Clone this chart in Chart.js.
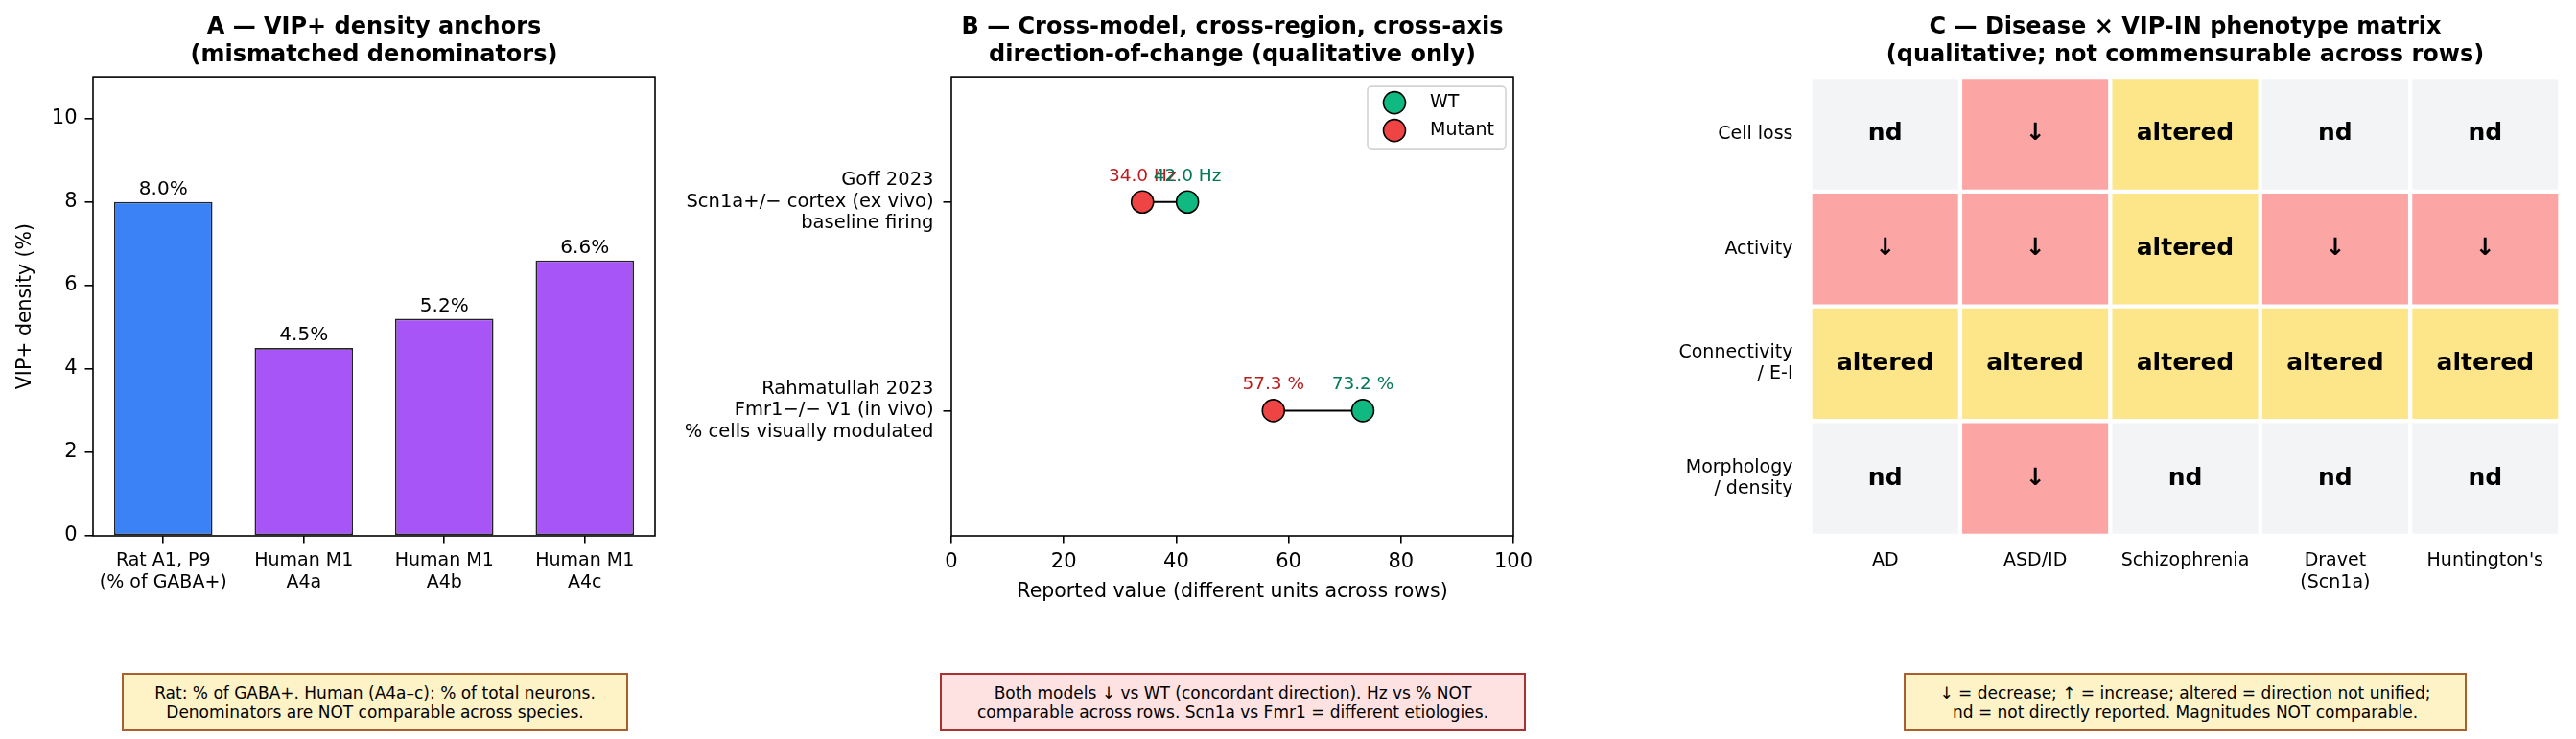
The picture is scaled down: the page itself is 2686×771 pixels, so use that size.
<!DOCTYPE html>
<html lang="en">
<head>
<meta charset="UTF-8">
<title>VIP interneuron panels</title>
<script src="https://cdn.jsdelivr.net/npm/chart.js@4.4.1/dist/chart.umd.min.js"></script>
<style>
    html, body { margin: 0; padding: 0; background: #fff; overflow: hidden; }
    body { width: 2686px; height: 771px; position: relative; font-family: 'DejaVu Sans', sans-serif; }
    canvas { position: absolute; top: 0; }
    .note {
        position: absolute; top: 702px; height: 61px; box-sizing: border-box;
        display: flex; align-items: center; justify-content: center; text-align: center;
        font-size: 17px; line-height: 20px; color: #000;
    }
    .cream { background: #fef3c7; border: 2px solid #a8602e; }
    .pink { background: #fee2e2; border: 2px solid #a83232; }
</style>
</head>
<body>
<canvas id="chartA" width="700" height="700" style="left:0px"></canvas>
<canvas id="chartB" width="1000" height="700" style="left:700px"></canvas>
<canvas id="chartC" width="966" height="700" style="left:1720px"></canvas>

<div class="note cream" style="left:127px; width:528px">Rat: % of GABA+. Human (A4a–c): % of total neurons.<br>Denominators are NOT comparable across species.</div>
<div class="note pink" style="left:980px; width:611px">Both models ↓ vs WT (concordant direction). Hz vs % NOT<br>comparable across rows. Scn1a vs Fmr1 = different etiologies.</div>
<div class="note cream" style="left:1985px; width:587px">↓ = decrease; ↑ = increase; altered = direction not unified;<br>nd = not directly reported. Magnitudes NOT comparable.</div>

<script>
    // ---- panel A data
    const densityLabels = [['Rat A1, P9', '(% of GABA+)'], ['Human M1', 'A4a'], ['Human M1', 'A4b'], ['Human M1', 'A4c']];
    const densityValues = [8.0, 4.5, 5.2, 6.6];
    const densityColors = ['#3b82f6', '#a855f7', '#a855f7', '#a855f7'];

    // ---- panel B data
    const studyLabels = [
        ['Rahmatullah 2023', 'Fmr1−/− V1 (in vivo)', '% cells visually modulated'],
        ['Goff 2023', 'Scn1a+/− cortex (ex vivo)', 'baseline firing']
    ];
    const studyRows = [0, 1];
    const wtValues = [73.2, 42.0];
    const mutantValues = [57.3, 34.0];
    const studyUnits = ['%', 'Hz'];
    const xTicksB = [0, 20, 40, 60, 80, 100];

    // ---- panel C data
    const diseases = ['AD', 'ASD/ID', 'Schizophrenia', ['Dravet', '(Scn1a)'], "Huntington's"];
    const phenotypes = ['Cell loss', 'Activity', ['Connectivity', '/ E-I'], ['Morphology', '/ density']];
    const calls = [
        ['nd', '↓', 'altered', 'nd', 'nd'],
        ['↓', '↓', 'altered', '↓', '↓'],
        ['altered', 'altered', 'altered', 'altered', 'altered'],
        ['nd', '↓', 'nd', 'nd', 'nd']
    ];
    const callColors = { '↓': '#fca5a5', 'altered': '#fde68a', 'nd': '#f3f4f6' };

    Chart.defaults.font.family = "'DejaVu Sans', sans-serif";
    Chart.defaults.color = '#000';
    Chart.defaults.animation = false;
    Chart.defaults.plugins.tooltip.enabled = false;
    Chart.defaults.plugins.legend.display = false;

    const FONT = "'DejaVu Sans', sans-serif";

    // full axes box like matplotlib spines
    const frame = {
        id: 'frame',
        afterDraw(chart) {
            const { ctx, chartArea: a } = chart;
            ctx.save();
            ctx.strokeStyle = '#000';
            ctx.lineWidth = 1.6;
            ctx.strokeRect(a.left, a.top, a.right - a.left, a.bottom - a.top);
            ctx.restore();
        }
    };

    const titleOpts = (lines) => ({
        display: true,
        text: lines,
        fullSize: false,
        color: '#000',
        font: { size: 24, weight: 'bold', family: FONT },
        padding: { top: 0, bottom: 8 }
    });

    const tickGrid = { display: true, drawOnChartArea: false, drawTicks: true, tickLength: 8.5, color: '#000', lineWidth: 1.6, offset: false };

    // ---------------- A
    const barValueLabels = {
        id: 'barValueLabels',
        afterDatasetsDraw(chart) {
            const { ctx } = chart;
            const meta = chart.getDatasetMeta(0);
            ctx.save();
            ctx.font = '20px ' + FONT;
            ctx.fillStyle = '#000';
            ctx.textAlign = 'center';
            ctx.textBaseline = 'alphabetic';
            meta.data.forEach((bar, i) => {
                ctx.fillText(densityValues[i].toFixed(1) + '%', bar.x, bar.y - 8);
            });
            ctx.restore();
        }
    };

    new Chart(document.getElementById('chartA'), {
        type: 'bar',
        data: {
            labels: densityLabels,
            datasets: [{
                data: densityValues,
                backgroundColor: densityColors,
                borderColor: '#222',
                borderWidth: 1.6,
                borderSkipped: false,
                barPercentage: 0.7,
                categoryPercentage: 1
            }]
        },
        options: {
            responsive: false,
            layout: { padding: { top: 14.5, left: 0, right: 17, bottom: 61 } },
            scales: {
                x: {
                    grid: tickGrid,
                    border: { display: false },
                    ticks: { font: { size: 19 }, color: '#000', padding: 6, maxRotation: 0, autoSkip: false },
                    afterFit(s) { s.height = 80; }
                },
                y: {
                    min: 0, max: 11,
                    grid: tickGrid,
                    border: { display: false },
                    ticks: { stepSize: 2, includeBounds: false, font: { size: 21 }, color: '#000', padding: 8 },
                    title: { display: true, text: 'VIP+ density (%)', font: { size: 20.5 }, color: '#000', padding: { top: 14, bottom: 0 } },
                    afterFit(s) { s.width = 97; }
                }
            },
            plugins: { title: titleOpts(['A — VIP+ density anchors', '(mismatched denominators)']) }
        },
        plugins: [frame, barValueLabels]
    });

    // ---------------- B
    const pointValueLabels = {
        id: 'pointValueLabels',
        afterDatasetsDraw(chart) {
            const { ctx } = chart;
            ctx.save();
            ctx.font = '18.5px ' + FONT;
            ctx.textAlign = 'center';
            ctx.textBaseline = 'alphabetic';
            [[2, mutantValues, '#b91c1c'], [3, wtValues, '#047857']].forEach(([di, vals, col]) => {
                const meta = chart.getDatasetMeta(di);
                ctx.fillStyle = col;
                meta.data.forEach((pt, i) => {
                    ctx.fillText(vals[i].toFixed(1) + ' ' + studyUnits[i], pt.x, pt.y - 22);
                });
            });
            ctx.restore();
        }
    };

    const boxLegend = {
        id: 'boxLegend',
        afterDraw(chart) {
            const { ctx, chartArea: a } = chart;
            const w = 144, h = 65;
            const x0 = a.right - 8 - w, y0 = a.top + 10;
            ctx.save();
            ctx.beginPath();
            ctx.roundRect(x0, y0, w, h, 4);
            ctx.fillStyle = 'rgba(255,255,255,0.8)';
            ctx.fill();
            ctx.strokeStyle = '#d4d4d4';
            ctx.lineWidth = 1.6;
            ctx.stroke();
            [[3, 17], [2, 46]].forEach(([di, dy]) => {
                const ds = chart.data.datasets[di];
                ctx.beginPath();
                ctx.arc(x0 + 28, y0 + dy, 11.5, 0, Math.PI * 2);
                ctx.fillStyle = ds.backgroundColor;
                ctx.fill();
                ctx.lineWidth = 1.6;
                ctx.strokeStyle = '#000';
                ctx.stroke();
                ctx.fillStyle = '#000';
                ctx.font = '19px ' + FONT;
                ctx.textBaseline = 'middle';
                ctx.textAlign = 'left';
                ctx.fillText(ds.label, x0 + 65, y0 + dy);
            });
            ctx.restore();
        }
    };

    const connectors = studyRows.map((r, i) => ({
        label: 'link',
        data: [{ x: mutantValues[i], y: r }, { x: wtValues[i], y: r }],
        showLine: true,
        borderColor: '#000',
        borderWidth: 2,
        pointRadius: 0,
        order: 3
    }));

    new Chart(document.getElementById('chartB'), {
        type: 'scatter',
        data: {
            datasets: [
                ...connectors,
                {
                    label: 'Mutant',
                    data: studyRows.map((r, i) => ({ x: mutantValues[i], y: r })),
                    backgroundColor: '#ef4444',
                    borderColor: '#000',
                    borderWidth: 1.6,
                    pointRadius: 11.5,
                    order: 1
                },
                {
                    label: 'WT',
                    data: studyRows.map((r, i) => ({ x: wtValues[i], y: r })),
                    backgroundColor: '#10b981',
                    borderColor: '#000',
                    borderWidth: 1.6,
                    pointRadius: 11.5,
                    order: 2
                }
            ]
        },
        options: {
            responsive: false,
            layout: { padding: { top: 14.5, left: 0, right: 122, bottom: 61 } },
            scales: {
                x: {
                    type: 'linear', min: 0, max: 100,
                    grid: tickGrid,
                    border: { display: false },
                    afterBuildTicks(s) { s.ticks = xTicksB.map(v => ({ value: v })); },
                    ticks: { font: { size: 21 }, color: '#000', padding: 6.5 },
                    title: { display: true, text: 'Reported value (different units across rows)', font: { size: 20.5 }, color: '#000', padding: { top: 0, bottom: 9.5 } },
                    afterFit(s) { s.height = 80; }
                },
                y: {
                    type: 'linear', min: -0.6, max: 1.6,
                    grid: tickGrid,
                    border: { display: false },
                    afterBuildTicks(s) { s.ticks = studyRows.map(v => ({ value: v })); },
                    ticks: {
                        font: { size: 19.5, lineHeight: 1.15 }, color: '#000', padding: 10,
                        callback: (v) => studyLabels[studyRows.indexOf(v)]
                    },
                    afterFit(s) { s.width = 292; }
                }
            },
            plugins: { title: titleOpts(['B — Cross-model, cross-region, cross-axis', 'direction-of-change (qualitative only)']) }
        },
        plugins: [frame, pointValueLabels, boxLegend]
    });

    // ---------------- C
    const cellText = {
        id: 'cellText',
        afterDatasetsDraw(chart) {
            const { ctx } = chart;
            ctx.save();
            ctx.font = 'bold 25px ' + FONT;
            ctx.fillStyle = '#000';
            ctx.textAlign = 'center';
            ctx.textBaseline = 'middle';
            calls.forEach((row, r) => {
                const meta = chart.getDatasetMeta(r);
                meta.data.forEach((cell, c) => {
                    const p = cell.getCenterPoint();
                    ctx.fillText(row[c], p.x, p.y);
                });
            });
            ctx.restore();
        }
    };

    new Chart(document.getElementById('chartC'), {
        type: 'bar',
        data: {
            labels: diseases,
            datasets: calls.map((row, r) => ({
                label: Array.isArray(phenotypes[r]) ? phenotypes[r].join(' ') : phenotypes[r],
                data: row.map(() => [r - 0.5, r + 0.5]),
                backgroundColor: row.map(c => callColors[c]),
                borderColor: '#fff',
                borderWidth: 2.5,
                borderSkipped: false,
                barPercentage: 1,
                categoryPercentage: 1,
                grouped: false
            }))
        },
        options: {
            responsive: false,
            layout: { padding: { top: 14.5, left: 0, right: 16.5, bottom: 61 } },
            scales: {
                x: {
                    grid: { display: false },
                    border: { display: false },
                    ticks: { font: { size: 19 }, color: '#000', padding: 6.5, maxRotation: 0, autoSkip: false },
                    afterFit(s) { s.height = 80; }
                },
                y: {
                    type: 'linear', min: -0.5, max: 3.5, reverse: true,
                    grid: { display: false },
                    border: { display: false },
                    afterBuildTicks(s) { s.ticks = phenotypes.map((p, i) => ({ value: i })); },
                    ticks: {
                        font: { size: 19, lineHeight: 1.15 }, color: '#000', padding: 10,
                        callback: (v) => phenotypes[v]
                    },
                    afterFit(s) { s.width = 167.5; }
                }
            },
            plugins: { title: titleOpts(['C — Disease × VIP-IN phenotype matrix', '(qualitative; not commensurable across rows)']) }
        },
        plugins: [cellText]
    });
</script>
</body>
</html>
